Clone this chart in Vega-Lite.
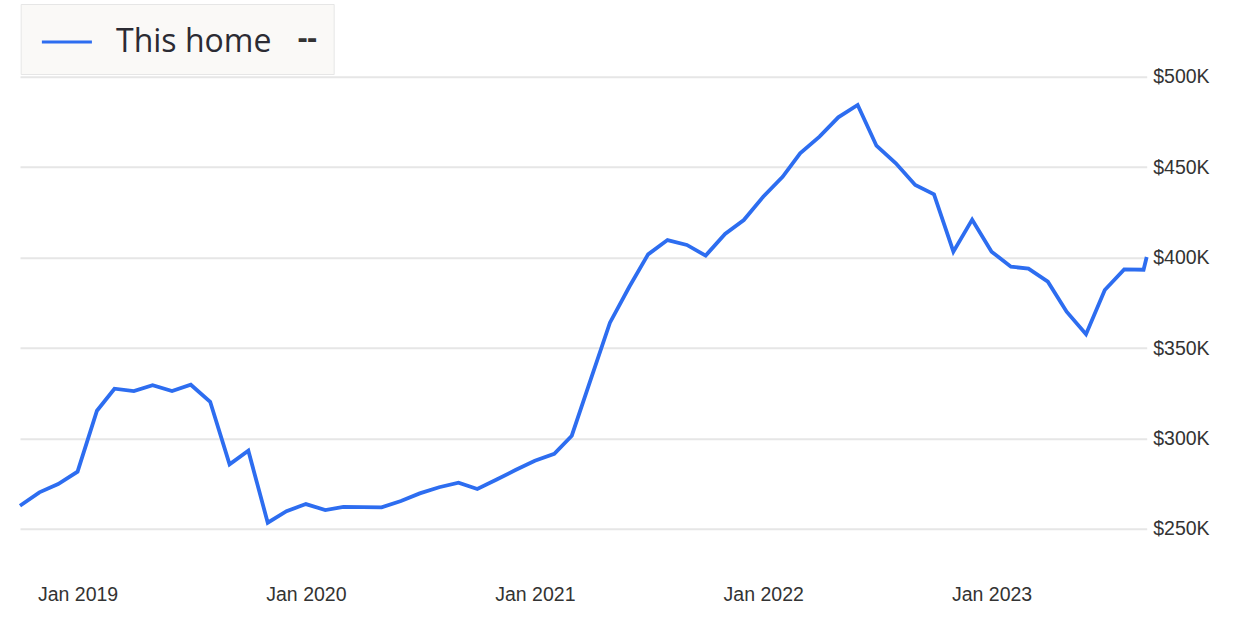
{
  "$schema": "https://vega.github.io/schema/vega-lite/v6.json",
  "width": 1126.7,
  "height": 488.2,
  "autosize": {"type": "none"},
  "padding": {"left": 20, "top": 76.8, "right": 93.3, "bottom": 79},
  "background": "white",
  "config": {"view": {"stroke": null}},
  "data": {
    "values": [
      {"date": "2018-10-01", "value": 262800},
      {"date": "2018-11-01", "value": 270200},
      {"date": "2018-12-01", "value": 274800},
      {"date": "2019-01-01", "value": 281600},
      {"date": "2019-02-01", "value": 315300},
      {"date": "2019-03-01", "value": 327500},
      {"date": "2019-04-01", "value": 326200},
      {"date": "2019-05-01", "value": 329400},
      {"date": "2019-06-01", "value": 326200},
      {"date": "2019-07-01", "value": 329700},
      {"date": "2019-08-01", "value": 320300},
      {"date": "2019-09-01", "value": 285700},
      {"date": "2019-10-01", "value": 293200},
      {"date": "2019-11-01", "value": 253400},
      {"date": "2019-12-01", "value": 259800},
      {"date": "2020-01-01", "value": 263700},
      {"date": "2020-02-01", "value": 260400},
      {"date": "2020-03-01", "value": 262100},
      {"date": "2020-04-01", "value": 262000},
      {"date": "2020-05-01", "value": 261900},
      {"date": "2020-06-01", "value": 265400},
      {"date": "2020-07-01", "value": 269600},
      {"date": "2020-08-01", "value": 273000},
      {"date": "2020-09-01", "value": 275500},
      {"date": "2020-10-01", "value": 272000},
      {"date": "2020-11-01", "value": 277300},
      {"date": "2020-12-01", "value": 282500},
      {"date": "2021-01-01", "value": 287700},
      {"date": "2021-02-01", "value": 291500},
      {"date": "2021-03-01", "value": 301500},
      {"date": "2021-04-01", "value": 333400},
      {"date": "2021-05-01", "value": 364000},
      {"date": "2021-06-01", "value": 383900},
      {"date": "2021-07-01", "value": 401800},
      {"date": "2021-08-01", "value": 409700},
      {"date": "2021-09-01", "value": 407000},
      {"date": "2021-10-01", "value": 401100},
      {"date": "2021-11-01", "value": 413100},
      {"date": "2021-12-01", "value": 420800},
      {"date": "2022-01-01", "value": 433700},
      {"date": "2022-02-01", "value": 444700},
      {"date": "2022-03-01", "value": 457700},
      {"date": "2022-04-01", "value": 466900},
      {"date": "2022-05-01", "value": 477600},
      {"date": "2022-06-01", "value": 484400},
      {"date": "2022-07-01", "value": 461900},
      {"date": "2022-08-01", "value": 452200},
      {"date": "2022-09-01", "value": 440200},
      {"date": "2022-10-01", "value": 435000},
      {"date": "2022-11-01", "value": 403300},
      {"date": "2022-12-01", "value": 421000},
      {"date": "2023-01-01", "value": 403300},
      {"date": "2023-02-01", "value": 395000},
      {"date": "2023-03-01", "value": 393900},
      {"date": "2023-04-01", "value": 386700},
      {"date": "2023-05-01", "value": 370100},
      {"date": "2023-06-01", "value": 357600},
      {"date": "2023-07-01", "value": 382100},
      {"date": "2023-08-01", "value": 393500},
      {"date": "2023-09-01", "value": 393300},
      {"date": "2023-09-06", "value": 400300}
    ]
  },
  "mark": {"type": "line", "strokeWidth": 3.8, "strokeJoin": "miter"},
  "encoding": {
    "x": {
      "field": "date",
      "type": "temporal",
      "scale": {
        "type": "utc",
        "nice": false,
        "domain": [
          {"year": 2018, "month": 10, "date": 1, "utc": true},
          {"year": 2023, "month": 9, "date": 6, "utc": true}
        ]
      },
      "axis": {
        "title": null,
        "domain": false,
        "ticks": false,
        "grid": false,
        "format": "%b %Y",
        "values": [
          {"year": 2019, "month": 1, "date": 1, "utc": true},
          {"year": 2020, "month": 1, "date": 1, "utc": true},
          {"year": 2021, "month": 1, "date": 1, "utc": true},
          {"year": 2022, "month": 1, "date": 1, "utc": true},
          {"year": 2023, "month": 1, "date": 1, "utc": true}
        ],
        "labelFont": "Liberation Sans",
        "labelFontSize": 19.5,
        "labelColor": "#333333",
        "labelPadding": 20,
        "labelAlign": "center",
        "labelFlush": false
      }
    },
    "y": {
      "field": "value",
      "type": "quantitative",
      "scale": {"domain": [230000, 500000], "nice": false, "zero": false},
      "axis": {
        "orient": "right",
        "title": null,
        "domain": false,
        "ticks": false,
        "values": [250000, 300000, 350000, 400000, 450000, 500000],
        "labelExpr": "'$' + format(datum.value / 1000, 'd') + 'K'",
        "labelFont": "Liberation Sans",
        "labelFontSize": 19.5,
        "labelColor": "#333333",
        "labelPadding": 6,
        "labelBaseline": "middle",
        "labelFlush": false,
        "gridColor": "#e6e6e6",
        "gridWidth": 2
      }
    },
    "color": {
      "datum": "This home",
      "type": "nominal",
      "scale": {"domain": ["This home"], "range": ["#2d6df0"]},
      "legend": {
        "orient": "none",
        "legendX": 0.7,
        "legendY": -72.8,
        "direction": "horizontal",
        "title": "-- ",
        "titleOrient": "right",
        "titleAngle": 0,
        "titleFont": "Open Sans",
        "titleFontSize": 30,
        "titleFontWeight": "bold",
        "titleColor": "#333333",
        "titlePadding": 26,
        "titleBaseline": "middle",
        "labelFont": "Open Sans",
        "labelFontSize": 32,
        "labelColor": "#2b2b33",
        "labelOffset": 27.1,
        "labelLimit": 400,
        "symbolType": "M-1.22,0H1.22",
        "symbolSize": 1681,
        "symbolStrokeWidth": 3,
        "symbolOffset": 8.2,
        "fillColor": "#faf9f7",
        "strokeColor": "#e6e6e6",
        "padding": 16,
        "cornerRadius": 0
      }
    }
  }
}
